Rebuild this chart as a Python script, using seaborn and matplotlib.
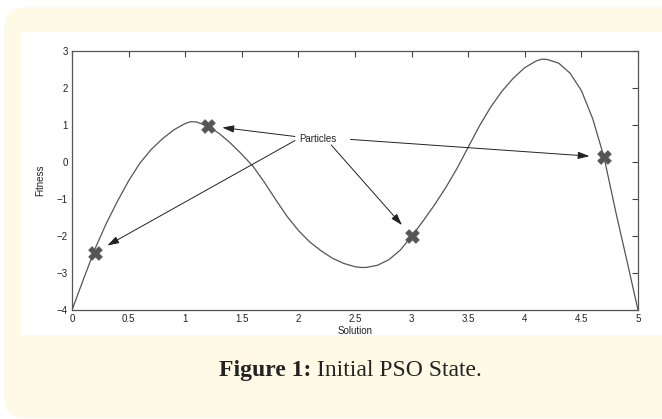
import numpy as np
import pandas as pd
import seaborn as sns
import matplotlib
matplotlib.use("Agg")
import matplotlib.pyplot as plt
from matplotlib.patches import FancyBboxPatch, Rectangle
from matplotlib.transforms import IdentityTransform

# fitness curve
solution = [0.0, 0.1, 0.2, 0.3, 0.4, 0.5, 0.6, 0.7, 0.8, 0.9,
            1.0, 1.05, 1.1, 1.2, 1.3, 1.4, 1.5, 1.6, 1.7, 1.8, 1.9,
            2.0, 2.1, 2.2, 2.3, 2.4, 2.5, 2.55, 2.6, 2.7, 2.8, 2.9,
            3.0, 3.1, 3.2, 3.3, 3.4, 3.5, 3.6, 3.7, 3.8, 3.9,
            4.0, 4.1, 4.15, 4.2, 4.3, 4.4, 4.5, 4.6, 4.7, 4.8, 4.9, 5.0]
fitness = [-4.00, -3.18, -2.37, -1.68, -1.07, -0.51, -0.03, 0.34, 0.63, 0.87,
           1.04, 1.09, 1.08, 0.97, 0.77, 0.51, 0.21, -0.12, -0.55, -1.02, -1.47,
           -1.85, -2.16, -2.40, -2.60, -2.74, -2.83, -2.85, -2.85, -2.79, -2.64, -2.38,
           -2.01, -1.60, -1.17, -0.70, -0.18, 0.40, 0.98, 1.49, 1.92, 2.27,
           2.55, 2.73, 2.78, 2.77, 2.67, 2.40, 1.93, 1.17, 0.13, -1.30, -2.64, -4.00]

# particles
particle_x = [0.2, 1.2, 3.0, 4.7]
particle_y = [-2.45, 0.98, -2.0, 0.13]
# where each arrow leaves the label
arrow_from_x = [1.97, 1.97, 2.29, 2.46]
arrow_from_y = [0.58, 0.69, 0.46, 0.61]

x_ticks = [0, 0.5, 1, 1.5, 2, 2.5, 3, 3.5, 4, 4.5, 5]
x_tick_labels = ["0", "0.5", "1", "1.5", "2", "2.5", "3", "3.5", "4", "4.5", "5"]
y_ticks = [-4, -3, -2, -1, 0, 1, 2, 3]
y_tick_labels = ["\u22124", "\u22123", "\u22122", "\u22121", "0", "1", "2", "3"]

curve_df = pd.DataFrame({"Solution": solution, "Fitness": fitness})
particles_df = pd.DataFrame({"Solution": particle_x, "Fitness": particle_y})

sns.set_style("white")
plt.rcParams["font.family"] = ["Liberation Sans", "DejaVu Sans"]

W, H = 662, 419
fig = plt.figure(figsize=(W / 100, H / 100), dpi=100)
fig.patch.set_facecolor("white")

# cream card with rounded corners + white inner panel (pixel coords)
card = FancyBboxPatch((4, 1), 720, 411, boxstyle="round,pad=0,rounding_size=22",
                      facecolor="#fefae6", edgecolor="none",
                      transform=IdentityTransform(), zorder=-10)
inner = Rectangle((21, 84), 700, 303, facecolor="white", edgecolor="none",
                  transform=IdentityTransform(), zorder=-9)
fig.patches.extend([card, inner])

ax = fig.add_axes([72 / W, (H - 310) / H, (638 - 72) / W, (310 - 51) / H])
ax.set_facecolor("white")

sns.lineplot(data=curve_df, x="Solution", y="Fitness", color="#555555",
             linewidth=0.9, estimator=None, sort=False, ax=ax)
sns.scatterplot(data=particles_df, x="Solution", y="Fitness", marker="X", s=95,
                color="#555555", edgecolor="#555555", linewidth=0.6, zorder=5, ax=ax)

ax.text(2.01, 0.61, "Particles", fontsize=7, color="#222222", ha="left", va="center")
for fx, fy, px, py in zip(arrow_from_x, arrow_from_y, particle_x, particle_y):
    ax.annotate("", xy=(px, py), xytext=(fx, fy),
                arrowprops=dict(arrowstyle="-|>,head_length=0.7,head_width=0.22",
                                color="#222222", lw=0.7, shrinkA=0, shrinkB=10.5))

ax.set_xlim(0, 5)
ax.set_ylim(-4, 3)
ax.set_xticks(x_ticks)
ax.set_xticklabels(x_tick_labels)
ax.set_yticks(y_ticks)
ax.set_yticklabels(y_tick_labels)
ax.tick_params(direction="in", length=4, width=0.8, top=True, right=True,
               labelsize=7, colors="#444444", labelcolor="#222222", pad=3)
for s in ax.spines.values():
    s.set_color("#555555")
    s.set_linewidth(0.9)

ax.set_xlabel("Solution", fontsize=7, color="#222222", labelpad=1)
ax.set_ylabel("Fitness", fontsize=7, color="#222222", labelpad=8)

# caption: bold label followed by regular text
t1 = fig.text(219 / W, (H - 381) / H, "Figure 1:", fontsize=17, weight="bold",
              family=["Liberation Serif", "DejaVu Serif"], color="#222222",
              ha="left", va="bottom")
ax.annotate(" Initial PSO State.", xy=(1, 0), xycoords=t1, fontsize=17,
            family=["Liberation Serif", "DejaVu Serif"], color="#222222",
            ha="left", va="bottom", annotation_clip=False)

fig.savefig("out.png", dpi=100)
